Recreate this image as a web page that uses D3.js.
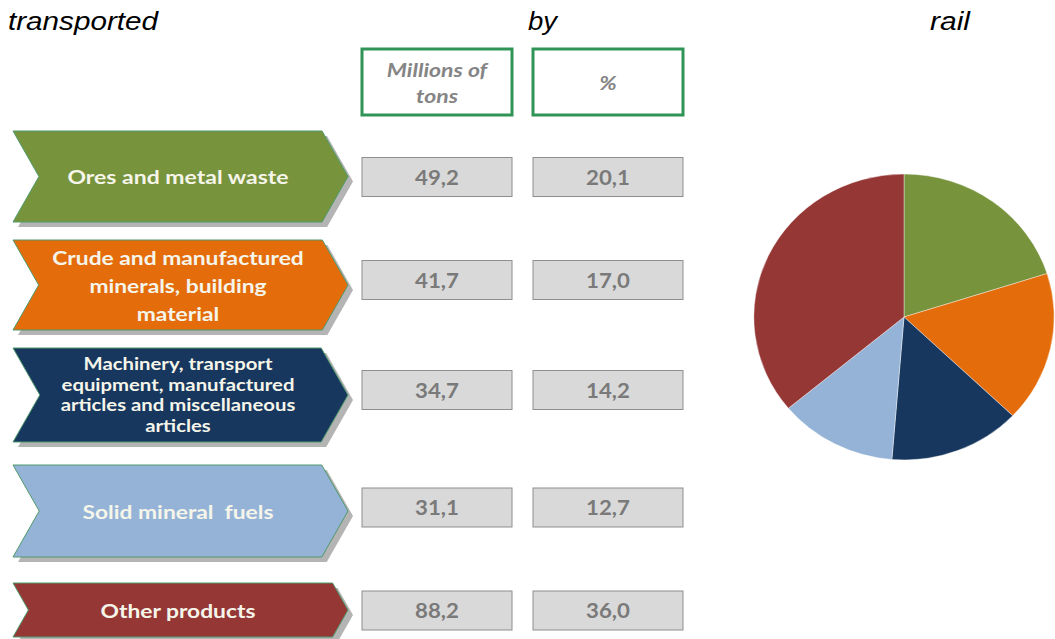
<!DOCTYPE html>
<html><head><meta charset="utf-8">
<script src="https://cdn.jsdelivr.net/npm/d3@7"></script>
<style>body{margin:0;background:#fff;overflow:hidden} svg{display:block}</style>
</head><body>
<script>
// ---- data ----
const categories = [
  "Ores and metal waste",
  "Crude and manufactured minerals, building material",
  "Machinery, transport equipment, manufactured articles and miscellaneous articles",
  "Solid mineral fuels",
  "Other products"
];
const labelLines = [
  ["Ores and metal waste"],
  ["Crude and manufactured", "minerals, building", "material"],
  ["Machinery, transport", "equipment, manufactured", "articles and miscellaneous", "articles"],
  ["Solid mineral  fuels"],
  ["Other products"]
];
const tons = [49.2, 41.7, 34.7, 31.1, 88.2];
const percents = [20.1, 17.0, 14.2, 12.7, 36.0];
const columnKeys = ["tons", "pct"];
const columnHeaders = [["Millions of", "tons"], ["%"]];
const titleWords = ["transported", "by", "rail"];

// ---- layout / style ----
const W = 1055, H = 639;
const colors = ["#77933c", "#e46c0a", "#17375e", "#95b3d7", "#953735"];
const arrowY = d3.scaleOrdinal().domain(categories).range([176.5, 285, 395, 511, 610]);
const arrowH = d3.scaleOrdinal().domain(categories).range([91, 90, 94, 92, 54]);
const boxY = d3.scaleOrdinal().domain(categories).range([177, 280, 390, 507.5, 610.5]);
const labelSize = d3.scaleOrdinal().domain(categories).range([19, 19, 16.5, 19, 19]);
const labelGap = d3.scaleOrdinal().domain(categories).range([28, 28, 20.5, 28, 28]);
const labelStretch = d3.scaleOrdinal().domain(categories).range([1.21, 1.2, 1.23, 1.2, 1.2]);
const colX = d3.scaleBand().domain(columnKeys).range([362, 683]).paddingInner(0.1228).paddingOuter(0);
const arrowX0 = 13, arrowX1 = 348;
const fmt = d3.formatLocale({decimal: ",", thousands: ".", grouping: [3], currency: ["", ""]}).format(".1f");
const stretch = (cx, s) => `translate(${cx},0) scale(${s},1) translate(${-cx},0)`;

const svg = d3.select("body").append("svg").attr("width", W).attr("height", H);

// title (justified words)
const titleX = [[8, 150], [528, 29], [930, 40]];
svg.selectAll("text.title").data(titleWords).join("text")
  .attr("class", "title")
  .attr("x", (d, i) => titleX[i][0]).attr("y", 30)
  .attr("textLength", (d, i) => titleX[i][1]).attr("lengthAdjust", "spacingAndGlyphs")
  .style("font-family", "'Liberation Sans', Arial, sans-serif")
  .style("font-style", "italic").style("font-size", "25px").attr("fill", "#000")
  .text(d => d);

// column headers
const hdr = svg.selectAll("g.hdr").data(columnKeys).join("g").attr("class", "hdr");
hdr.append("rect")
  .attr("x", d => colX(d)).attr("y", 49).attr("width", colX.bandwidth()).attr("height", 66)
  .attr("fill", "#fff").attr("stroke", "#2f9455").attr("stroke-width", 3);
hdr.each(function(d, i) {
  const lines = columnHeaders[i];
  const cy = 83;
  const cx = colX(d) + colX.bandwidth() / 2;
  d3.select(this).selectAll("text").data(lines).join("text")
    .attr("x", cx)
    .attr("y", (l, j) => cy + (j - (lines.length - 1) / 2) * 26)
    .attr("transform", stretch(cx, 1.18))
    .attr("text-anchor", "middle").attr("dominant-baseline", "central")
    .style("font-family", "Lato, 'Open Sans', sans-serif").style("font-style", "italic")
    .style("font-weight", "bold").style("font-size", "19.5px").attr("fill", "#858585")
    .text(l => l);
});

// arrows
function arrowPath(yc, h) {
  const d = 0.57 * h / 2, t = yc - h / 2, b = yc + h / 2;
  return `M${arrowX0},${t}L${arrowX1 - d},${t}L${arrowX1},${yc}L${arrowX1 - d},${b}L${arrowX0},${b}L${arrowX0 + d},${yc}Z`;
}
const rows = svg.selectAll("g.row").data(categories).join("g").attr("class", "row");
rows.append("path").attr("d", c => arrowPath(arrowY(c), arrowH(c)))
  .attr("transform", "translate(5,5)").attr("fill", "#b4b4b4");
rows.append("path").attr("d", c => arrowPath(arrowY(c), arrowH(c)))
  .attr("fill", (c, i) => colors[i]).attr("stroke", "#4f9a6c").attr("stroke-width", 1);
rows.each(function(c, i) {
  const lines = labelLines[i];
  const gap = labelGap(c);
  const cx = 178;
  d3.select(this).selectAll("text.lbl").data(lines).join("text").attr("class", "lbl")
    .attr("x", cx)
    .attr("y", (l, j) => arrowY(c) + (j - (lines.length - 1) / 2) * gap)
    .attr("transform", stretch(cx, labelStretch(c)))
    .attr("text-anchor", "middle").attr("dominant-baseline", "central")
    .style("font-family", "Lato, 'Open Sans', sans-serif").style("font-weight", "bold")
    .style("font-size", labelSize(c) + "px").attr("fill", "#f5f5ea")
    .style("white-space", "pre")
    .text(l => l);
});

// value boxes
const vals = [tons, percents];
columnKeys.forEach((k, ci) => {
  const g = svg.append("g");
  const cx = colX(k) + colX.bandwidth() / 2;
  g.selectAll("rect").data(categories).join("rect")
    .attr("x", colX(k)).attr("y", c => boxY(c) - 19.5)
    .attr("width", colX.bandwidth()).attr("height", 39)
    .attr("fill", "#d9d9d9").attr("stroke", "#8e8e8e").attr("stroke-width", 1);
  g.selectAll("text").data(categories).join("text")
    .attr("x", cx).attr("y", c => boxY(c))
    .attr("transform", stretch(cx, 1.06))
    .attr("text-anchor", "middle").attr("dominant-baseline", "central")
    .style("font-family", "Lato, 'Open Sans', sans-serif").style("font-weight", "bold")
    .style("font-size", "21px").attr("fill", "#7a7a7a")
    .text((c, i) => fmt(vals[ci][i]));
});

// pie
const pie = d3.pie().sort(null).value(d => d);
const arc = d3.arc().innerRadius(0).outerRadius(143);
svg.append("g").attr("transform", "translate(904,317) scale(1.05,1)")
  .selectAll("path").data(pie(tons)).join("path")
  .attr("d", arc).attr("fill", (d, i) => colors[i])
  .attr("stroke", "#ffffff").attr("stroke-width", 0.4);
</script>
</body></html>
